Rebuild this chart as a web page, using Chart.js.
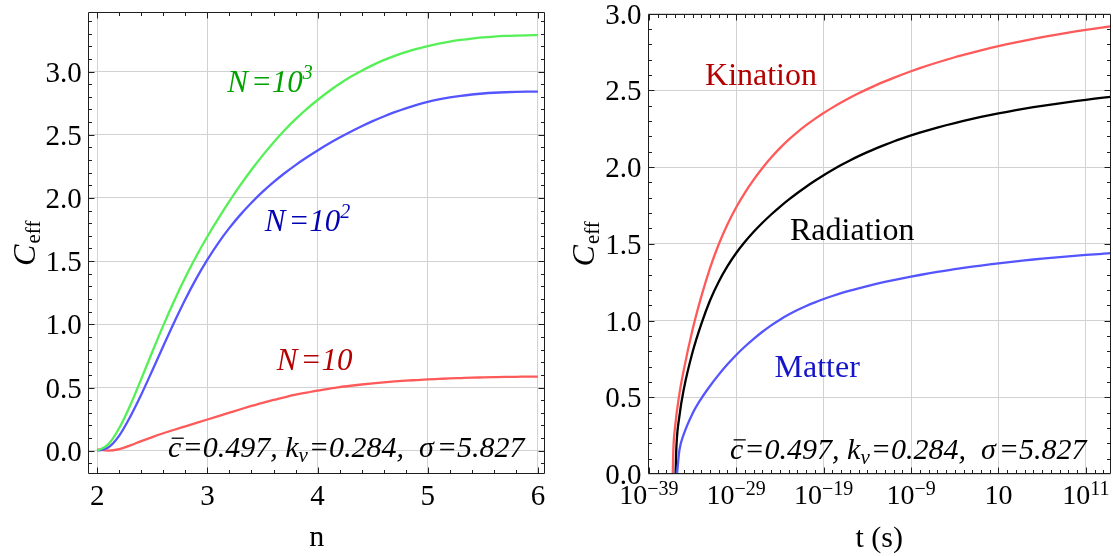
<!DOCTYPE html>
<html>
<head>
<meta charset="utf-8">
<script src="https://cdn.jsdelivr.net/npm/chart.js@4/dist/chart.umd.min.js"></script>
<style>
  html, body { margin: 0; padding: 0; background: #ffffff; }
  #wrap { position: relative; width: 1113px; height: 556px; overflow: hidden; }
  #left { position: absolute; left: 0; top: 0; }
  #right { position: absolute; left: 556px; top: 0; }
  .preload { position: absolute; left: -9999px; top: 0; font-family: "Liberation Serif"; }
</style>
</head>
<body>
<div id="wrap">
  <canvas id="left" width="556" height="556" style="width:556px;height:556px"></canvas>
  <canvas id="right" width="557" height="556" style="width:557px;height:556px"></canvas>
</div>
<span class="preload">Ceff 0.5 <i>N=10 σ</i></span>
<script>
// ---- Left panel: C_eff against n for three values of N ----
const nValues = [2.0, 2.1, 2.2, 2.3, 2.4, 2.5, 2.6, 2.7, 2.8, 2.9,
                 3.0, 3.1, 3.2, 3.3, 3.4, 3.5, 3.6, 3.7, 3.8, 3.9,
                 4.0, 4.1, 4.2, 4.3, 4.4, 4.5, 4.6, 4.7, 4.8, 4.9,
                 5.0, 5.1, 5.2, 5.3, 5.4, 5.5, 5.6, 5.7, 5.8, 5.9, 6.0];
const ceffN1000 = [0, 0.05, 0.18, 0.36, 0.568, 0.783, 0.992, 1.189, 1.372, 1.54,
                   1.695, 1.839, 1.975, 2.103, 2.223, 2.335, 2.439, 2.535, 2.623, 2.703,
                   2.775, 2.842, 2.903, 2.958, 3.007, 3.051, 3.09, 3.124, 3.154, 3.18,
                   3.202, 3.221, 3.237, 3.25, 3.261, 3.27, 3.277, 3.282, 3.285, 3.287, 3.288];
const ceffN100  = [0, 0.025, 0.12, 0.27, 0.445, 0.635, 0.829, 1.019, 1.199, 1.364,
                   1.512, 1.645, 1.763, 1.868, 1.962, 2.0475, 2.125, 2.1955, 2.26, 2.3195,
                   2.3755, 2.428, 2.4775, 2.524, 2.5675, 2.6078, 2.6448, 2.6785, 2.7089, 2.736,
                   2.7598, 2.7789, 2.7949, 2.808, 2.8184, 2.8264, 2.8323, 2.8364, 2.839, 2.8405, 2.8412];
const ceffN10   = [0.010, 0.000, 0.012, 0.042, 0.076, 0.108, 0.138, 0.166, 0.193, 0.220,
                   0.247, 0.274, 0.301, 0.328, 0.354, 0.379, 0.402, 0.423, 0.443, 0.460,
                   0.476, 0.490, 0.503, 0.514, 0.524, 0.533, 0.541, 0.548, 0.554, 0.559,
                   0.564, 0.568, 0.572, 0.575, 0.578, 0.580, 0.582, 0.584, 0.585, 0.586, 0.587];
const nTickValues = [2, 3, 4, 5, 6];
const ceffTickValuesLeft = [0, 0.5, 1, 1.5, 2, 2.5, 3];

// ---- Right panel: C_eff against cosmic time t (log10 of t in seconds) ----
const kinationLogT = [-36.26, -36.2, -36.0, -35.5, -35, -34, -33, -32, -31, -30, -29, -28, -27, -26, -25, -24, -23, -22, -21, -20,
                      -19, -18, -17, -16, -15, -14, -13, -12, -11, -10, -9, -8, -7, -6, -5, -4, -3, -2, -1, 0,
                      1, 2, 3, 4, 5, 6, 7, 8, 9, 10, 11, 12, 13, 13.84];
const kinationCeff = [0, 0.15, 0.306, 0.523, 0.679, 0.94, 1.156, 1.342, 1.497, 1.627, 1.738, 1.834, 1.918, 1.994, 2.062, 2.123, 2.178, 2.228, 2.273, 2.314,
                      2.352, 2.387, 2.42, 2.451, 2.48, 2.5075, 2.5335, 2.558, 2.581, 2.603, 2.624, 2.644, 2.663, 2.681, 2.698, 2.715, 2.7305, 2.7456, 2.7601, 2.774,
                      2.7873, 2.8, 2.8122, 2.8239, 2.8351, 2.8458, 2.8561, 2.866, 2.8755, 2.8846, 2.8934, 2.9019, 2.9101, 2.9168];
const radiationLogT = [-35.94, -35.85, -35.5, -35, -34, -33, -32, -31, -30, -29, -28, -27, -26, -25, -24, -23, -22, -21, -20,
                       -19, -18, -17, -16, -15, -14, -13, -12, -11, -10, -9, -8, -7, -6, -5, -4, -3, -2, -1, 0,
                       1, 2, 3, 4, 5, 6, 7, 8, 9, 10, 11, 12, 13, 13.84];
const radiationCeff = [0, 0.171, 0.378, 0.553, 0.794, 0.977, 1.131, 1.253, 1.354, 1.44, 1.513, 1.578, 1.637, 1.691, 1.741, 1.7875, 1.831, 1.872, 1.9105,
                       1.947, 1.981, 2.013, 2.043, 2.071, 2.0972, 2.1217, 2.1447, 2.1663, 2.1866, 2.2057, 2.2237, 2.2407, 2.2568, 2.2721, 2.2866, 2.3004, 2.3135, 2.326, 2.3379,
                       2.3492, 2.36, 2.3703, 2.3801, 2.3895, 2.3985, 2.4071, 2.4153, 2.4232, 2.4308, 2.4381, 2.4451, 2.4519, 2.4574];
const matterLogT = [-35.78, -35.5, -35, -34, -33, -32, -31, -30, -29, -28, -27, -26, -25, -24, -23, -22, -21, -20,
                    -19, -18, -17, -16, -15, -14, -13, -12, -11, -10, -9, -8, -7, -6, -5, -4, -3, -2, -1, 0,
                    1, 2, 3, 4, 5, 6, 7, 8, 9, 10, 11, 12, 13, 13.84];
const matterCeff = [0, 0.156, 0.26, 0.394, 0.492, 0.574, 0.648, 0.715, 0.776, 0.831, 0.881, 0.927, 0.969, 1.006, 1.039, 1.0685, 1.095, 1.1188,
                    1.1403, 1.16, 1.1781, 1.1948, 1.2103, 1.2248, 1.2384, 1.2513, 1.2635, 1.2751, 1.2862, 1.2968, 1.3069, 1.3165, 1.3257, 1.3345, 1.3429, 1.3509, 1.3585, 1.3658,
                    1.3728, 1.3795, 1.3859, 1.392, 1.3978, 1.4033, 1.4085, 1.4135, 1.4183, 1.4229, 1.4273, 1.4315, 1.4355, 1.4388];
const tTickExponents = [-39, -29, -19, -9, 1, 11];
const ceffTickValuesRight = [0, 0.5, 1, 1.5, 2, 2.5, 3];

const SERIF = '"Liberation Serif", "Times New Roman", Times, serif';
const font = (size, style) => (style ? style + ' ' : '') + size + 'px ' + SERIF;

// Draws a run of differently styled text pieces on one baseline.
function drawRich(ctx, x, y, segs, align) {
  let total = 0;
  segs.forEach(s => {
    ctx.font = s.font;
    s.w = ctx.measureText(s.text).width;
    total += s.w + (s.gap || 0);
  });
  let cx = align === 'center' ? x - total / 2 : align === 'right' ? x - total : x;
  ctx.textAlign = 'left';
  ctx.textBaseline = 'alphabetic';
  segs.forEach(s => {
    ctx.font = s.font;
    ctx.fillStyle = s.color || '#000';
    ctx.fillText(s.text, cx, y + (s.dy || 0));
    if (s.overline) {
      const size = parseFloat(s.font.match(/(\d+(\.\d+)?)px/)[1]);
      ctx.strokeStyle = s.color || '#000';
      ctx.lineWidth = 1.3;
      ctx.beginPath();
      ctx.moveTo(cx + 0.12 * size, y - 0.64 * size);
      ctx.lineTo(cx + s.w + 0.08 * size, y - 0.64 * size);
      ctx.stroke();
    }
    cx += s.w + (s.gap || 0);
  });
}

// Frame with inward ticks on all four sides.
function drawFrame(chart, xMajor, xMinor, yMajor, yMinor) {
  const ctx = chart.ctx, a = chart.chartArea, xs = chart.scales.x, ys = chart.scales.y;
  const L = Math.round(a.left) + 0.5, R = Math.round(a.right) - 0.5;
  const T = Math.round(a.top) + 0.5, B = Math.round(a.bottom) - 0.5;
  ctx.save();
  ctx.strokeStyle = '#1e1e1e';
  ctx.lineWidth = 1;
  ctx.beginPath();
  ctx.rect(L, T, R - L, B - T);
  const xt = (vals, len) => vals.forEach(v => {
    const p = Math.round(xs.getPixelForValue(v)) + 0.5;
    if (p <= L || p >= R) return;
    ctx.moveTo(p, B); ctx.lineTo(p, B - len);
    ctx.moveTo(p, T); ctx.lineTo(p, T + len);
  });
  const yt = (vals, len) => vals.forEach(v => {
    const p = Math.round(ys.getPixelForValue(v)) + 0.5;
    if (p <= T || p >= B) return;
    ctx.moveTo(L, p); ctx.lineTo(L + len, p);
    ctx.moveTo(R, p); ctx.lineTo(R - len, p);
  });
  xt(xMajor, 6); xt(xMinor, 3.5);
  yt(yMajor, 6); yt(yMinor, 3.5);
  ctx.stroke();
  ctx.restore();
}

function drawYTitle(ctx, x, y) {
  ctx.save();
  ctx.translate(x, y);
  ctx.rotate(-Math.PI / 2);
  drawRich(ctx, 0, 0, [
    { text: 'C', font: font(32, 'italic'), gap: 1 },
    { text: 'eff', font: font(21), dy: 5 }
  ], 'center');
  ctx.restore();
}

function paramSegs() {
  const it = font(30, 'italic');
  return [
    { text: 'c', font: it, overline: true, gap: 1 },
    { text: '=0.497, k', font: it },
    { text: 'v', font: font(21, 'italic'), dy: 5, gap: 1 },
    { text: '=0.284,  ', font: it },
    { text: '\u03C3', font: it, gap: 3 },
    { text: '=5.827', font: it }
  ];
}

function range(from, to, step, skip) {
  const out = [];
  for (let k = Math.round(from / step); k * step <= to + 1e-9; k++) {
    const v = +(k * step).toFixed(6);
    if (v < from - 1e-9) continue;
    if (skip && skip.some(s => Math.abs(s - v) < 1e-9)) continue;
    out.push(v);
  }
  return out;
}

const GRID = { color: '#d2d2d2', lineWidth: 1, drawTicks: false };
const LINE = { borderWidth: 2.3, pointRadius: 0, fill: false, cubicInterpolationMode: 'monotone' };

function buildCharts() {
  // ---------------- Left chart ----------------
  const leftMinorX = range(2, 6, 0.2, nTickValues);
  const leftMinorY = range(-0.1, 3.4, 0.1, ceffTickValuesLeft);

  const leftPanel = {
    id: 'leftPanel',
    afterDatasetsDraw(chart) {
      const ctx = chart.ctx, xs = chart.scales.x, ys = chart.scales.y, a = chart.chartArea;
      drawFrame(chart, nTickValues, leftMinorX, ceffTickValuesLeft, leftMinorY);
      ctx.save();
      nTickValues.forEach(v => drawRich(ctx, xs.getPixelForValue(v), 505, [{ text: String(v), font: font(29) }], 'center'));
      ceffTickValuesLeft.forEach(v => drawRich(ctx, a.left - 6.5, ys.getPixelForValue(v) + 10, [{ text: v.toFixed(1), font: font(29) }], 'right'));
      drawRich(ctx, (a.left + a.right) / 2, 546, [{ text: 'n', font: font(30) }], 'center');
      drawYTitle(ctx, 35, (a.top + a.bottom) / 2);
      const it = font(31, 'italic');
      const lab = (n, c, text, sup, color) => {
        const segs = [{ text: 'N', font: it, color, gap: 3 }, { text: '=' + text, font: it, color }];
        if (sup) segs.push({ text: sup, font: font(20, 'italic'), color, dy: -13 });
        drawRich(ctx, xs.getPixelForValue(n), ys.getPixelForValue(c), segs, 'left');
      };
      lab(3.18, 2.84, '10', '3', '#00a300');
      lab(3.52, 1.74, '10', '2', '#0000b4');
      lab(3.63, 0.64, '10', '', '#b40000');
      drawRich(ctx, xs.getPixelForValue(2.643), ys.getPixelForValue(-0.053), paramSegs(), 'left');
      ctx.restore();
    }
  };

  new Chart(document.getElementById('left'), {
    type: 'line',
    data: {
      datasets: [
        { data: nValues.map((n, i) => ({ x: n, y: ceffN1000[i] })), borderColor: '#55f055' },
        { data: nValues.map((n, i) => ({ x: n, y: ceffN100[i] })), borderColor: '#5555ff' },
        { data: nValues.map((n, i) => ({ x: n, y: ceffN10[i] })), borderColor: '#ff5a5a' }
      ].map(d => Object.assign(d, LINE))
    },
    options: {
      responsive: false,
      animation: false,
      devicePixelRatio: 1,
      layout: { padding: { left: 0, top: 12.4, right: 11, bottom: 0 } },
      plugins: { legend: { display: false }, tooltip: { enabled: false } },
      scales: {
        x: {
          type: 'linear', min: 1.919, max: 6.064,
          afterBuildTicks: s => { s.ticks = nTickValues.map(v => ({ value: v })); },
          afterFit: s => { s.height = 81.9; },
          ticks: { display: false },
          grid: GRID, border: { display: false }
        },
        y: {
          type: 'linear', min: -0.185, max: 3.468,
          afterBuildTicks: s => { s.ticks = ceffTickValuesLeft.map(v => ({ value: v })); },
          afterFit: s => { s.width = 88.3; },
          ticks: { display: false },
          grid: GRID, border: { display: false }
        }
      }
    },
    plugins: [leftPanel]
  });

  // ---------------- Right chart ----------------
  const rightMajorX = tTickExponents.map(e => Math.pow(10, e));
  const rightMinorX = range(-39, 13, 1, tTickExponents).map(e => Math.pow(10, e));
  const rightMinorY = range(0, 3, 0.1, ceffTickValuesRight);
  const MINUS = '\u2212';

  const rightPanel = {
    id: 'rightPanel',
    afterDatasetsDraw(chart) {
      const ctx = chart.ctx, xs = chart.scales.x, ys = chart.scales.y, a = chart.chartArea;
      drawFrame(chart, rightMajorX, rightMinorX, ceffTickValuesRight, rightMinorY);
      ctx.save();
      tTickExponents.forEach(e => {
        const segs = [{ text: '10', font: font(28) }];
        if (e !== 1) segs.push({ text: (e < 0 ? MINUS : '') + Math.abs(e), font: font(20), dy: -9 });
        drawRich(ctx, xs.getPixelForValue(Math.pow(10, e)), 503.5, segs, 'center');
      });
      ceffTickValuesRight.forEach(v => drawRich(ctx, a.left - 6, ys.getPixelForValue(v) + 10, [{ text: v.toFixed(1), font: font(29) }], 'right'));
      drawRich(ctx, (a.left + a.right) / 2, 547, [{ text: 't (s)', font: font(30) }], 'center');
      drawYTitle(ctx, 37.5, (a.top + a.bottom) / 2);
      const lab = (lt, c, text, color) =>
        drawRich(ctx, xs.getPixelForValue(Math.pow(10, lt)), ys.getPixelForValue(c), [{ text, font: font(32), color }], 'left');
      lab(-32.57, 2.535, 'Kination', '#b40000');
      lab(-22.85, 1.525, 'Radiation', '#000000');
      lab(-24.62, 0.635, 'Matter', '#1414c8');
      drawRich(ctx, xs.getPixelForValue(Math.pow(10, -29.71)), ys.getPixelForValue(0.098), paramSegs(), 'left');
      ctx.restore();
    }
  };

  const toPoints = (logT, ceff) => logT.map((e, i) => ({ x: Math.pow(10, e), y: ceff[i] }));

  new Chart(document.getElementById('right'), {
    type: 'line',
    data: {
      datasets: [
        { data: toPoints(matterLogT, matterCeff), borderColor: '#5555ff' },
        { data: toPoints(kinationLogT, kinationCeff), borderColor: '#ff5a5a' },
        { data: toPoints(radiationLogT, radiationCeff), borderColor: '#000000' }
      ].map(d => Object.assign(d, LINE))
    },
    options: {
      responsive: false,
      animation: false,
      devicePixelRatio: 1,
      layout: { padding: { left: 0, top: 13.5, right: 2.3, bottom: 0 } },
      plugins: { legend: { display: false }, tooltip: { enabled: false } },
      scales: {
        x: {
          type: 'logarithmic', min: Math.pow(10, -39.14), max: Math.pow(10, 13.84),
          afterBuildTicks: s => { s.ticks = rightMajorX.map(v => ({ value: v })); },
          afterFit: s => { s.height = 81.9; },
          ticks: { display: false },
          grid: GRID, border: { display: false }
        },
        y: {
          type: 'linear', min: 0, max: 3,
          afterBuildTicks: s => { s.ticks = ceffTickValuesRight.map(v => ({ value: v })); },
          afterFit: s => { s.width = 91.6; },
          ticks: { display: false },
          grid: GRID, border: { display: false }
        }
      }
    },
    plugins: [rightPanel]
  });
}

// Make sure the serif faces are ready before the canvases are painted.
const faceLoads = [font(29), font(29, 'italic')].map(f => document.fonts.load(f, 'Ceff0123456789σ'));
Promise.all(faceLoads).catch(() => {}).then(() => buildCharts());
</script>
</body>
</html>
